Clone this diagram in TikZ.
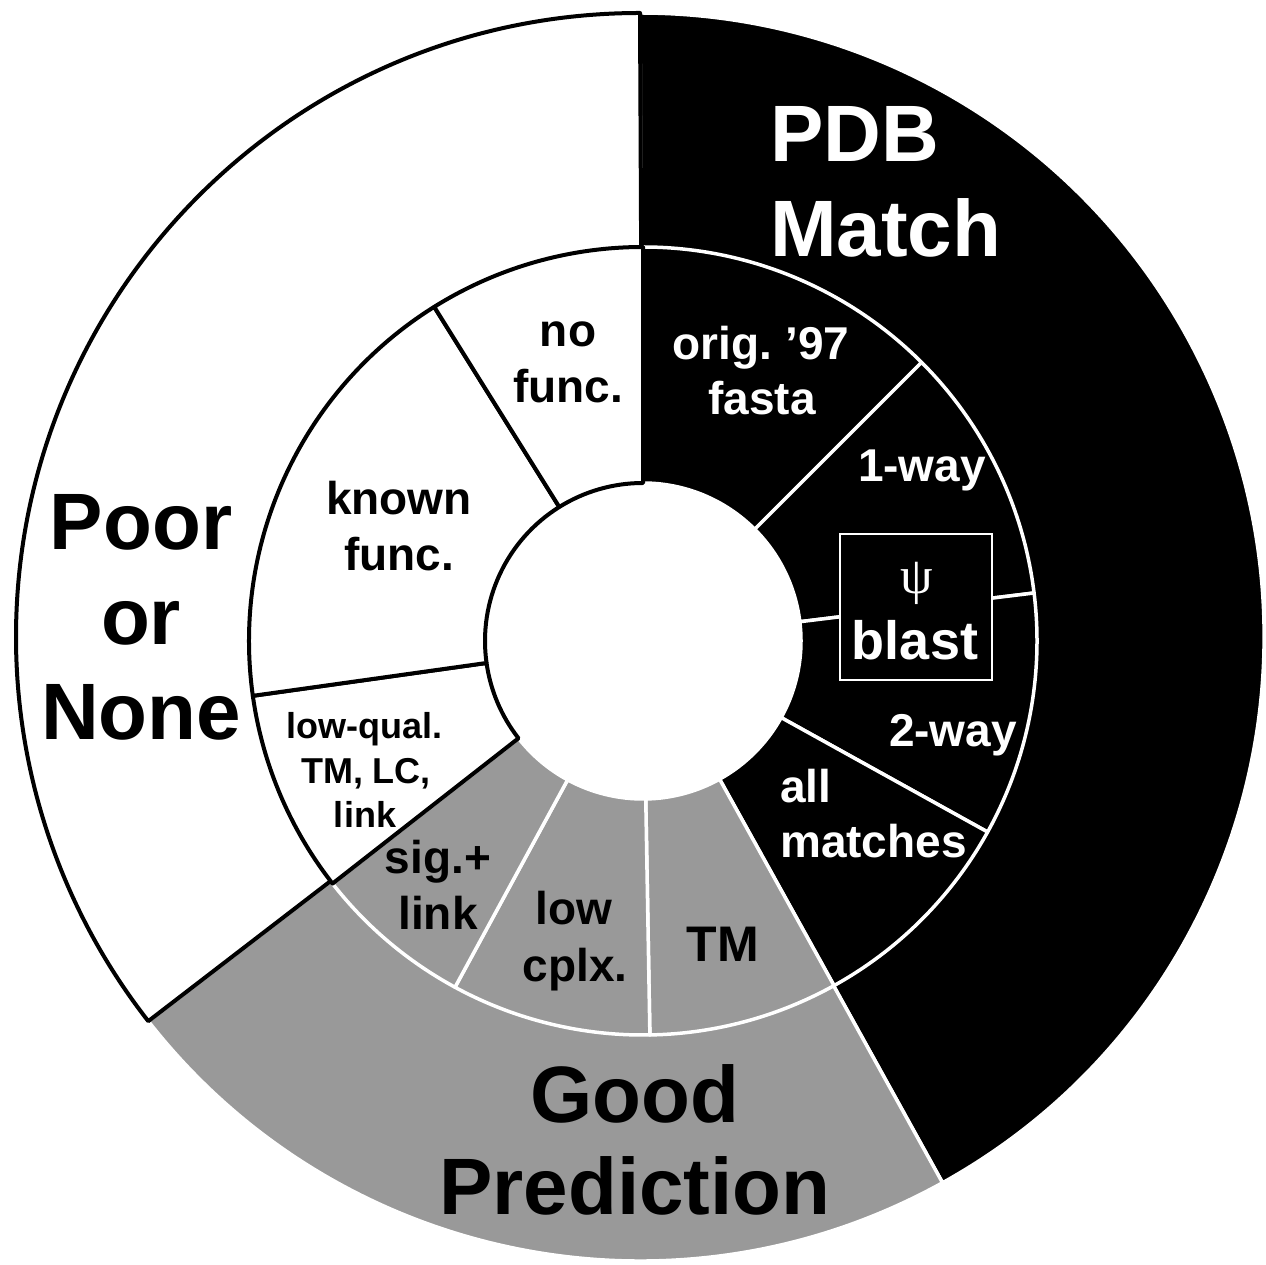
\documentclass[tikz,border=0pt]{standalone}
\usepackage{fontspec}
\setmainfont{Liberation Sans}
\newfontfamily\psifont{Liberation Serif}
\usetikzlibrary{calc}
\definecolor{midgray}{HTML}{999999}
\frenchspacing
\newcommand\outerpie[3]{\path[#1] (Ci) -- ([shift={(Co)}]#2:624) arc[start angle=#2, end angle=#3, radius=624] -- cycle;}
\newcommand\ringwedge[3]{\path[#1] ([shift={(Ci)}]#2:394) arc[start angle=#2, end angle=#3, radius=394] -- ([shift={(Ci)}]#3:158) arc[start angle=#3, end angle=#2, radius=158] -- cycle;}
\begin{document}
\begin{tikzpicture}[x=1pt,y=1pt,
  bigl/.style={font=\fontsize{80}{92}\selectfont\bfseries, inner sep=0pt, anchor=base},
  medl/.style={font=\fontsize{46}{52}\selectfont\bfseries, inner sep=0pt, anchor=base},
  smll/.style={font=\fontsize{36}{44}\selectfont\bfseries, inner sep=0pt, anchor=base},
  wedgeW/.style={fill=white, draw=black, line width=4pt, line join=round},
  wedgeK/.style={fill=black, draw=white, line width=3.5pt, line join=round},
  wedgeG/.style={fill=midgray, draw=white, line width=3.5pt, line join=round},
  onblack/.style={text=white},
]
\useasboundingbox (0,0) rectangle (1266,1264);
\coordinate (Co) at (640,627);
\coordinate (Ci) at (643,623);
% outer ring
\outerpie{wedgeK}{299}{450}
\outerpie{wedgeG}{218}{299}
\outerpie{wedgeW}{90}{218}
% hub
\fill[white] (Ci) circle[radius=158];
% inner ring
\ringwedge{wedgeK}{45}{90}
\ringwedge{wedgeK}{7}{45}
\ringwedge{wedgeK}{331}{367}
\ringwedge{wedgeK}{299}{331}
\ringwedge{wedgeG}{271}{299}
\ringwedge{wedgeG}{241.5}{271}
\ringwedge{wedgeG}{218}{241.5}
\ringwedge{wedgeW}{188}{218}
\ringwedge{wedgeW}{122}{188}
\ringwedge{wedgeW}{90}{122}
% outer labels
\node[bigl, onblack, anchor=base west] (pdb1) at (770,1102) {PDB};
\node[bigl, onblack, anchor=base west] (pdb2) at (770,1007) {Match};
\node[bigl] (poor1) at (141,714) {Poor};
\node[bigl] (poor2) at (141,619) {or};
\node[bigl] (poor3) at (141,524) {None};
\node[bigl] (good1) at (635,142) {Good};
\node[bigl] (good2) at (635,50) {Prediction};
% inner labels
\node[medl, onblack] (fa1) at (761,904) {orig. ’97};
\node[medl, onblack] (fa2) at (762,849) {fasta};
\node[medl] (nf1) at (568,917) {no};
\node[medl] (nf2) at (568,861) {func.};
\node[medl] (kf1) at (399,749) {known};
\node[medl] (kf2) at (399,693) {func.};
\node[smll] (lq1) at (364,525) {low-qual.};
\node[smll] (lq2) at (366,480) {TM, LC,};
\node[smll] (lq3) at (365,436) {link};
\node[medl] (sl1) at (438,390) {sig.+};
\node[medl] (sl2) at (438,334) {link};
\node[medl] (lc1) at (574,339) {low};
\node[medl] (lc2) at (575,282) {cplx.};
\node[medl, font=\fontsize{50}{56}\selectfont\bfseries] (tm) at (723,302) {TM};
\node[medl, onblack, anchor=base west] (am1) at (780,461) {all};
\node[medl, onblack, anchor=base west] (am2) at (780,406) {matches};
\node[medl, onblack] (tw) at (953,517) {2-way};
\node[medl, onblack] (ow) at (922,782) {1-way};
% blast box
\node[draw=white, line width=1.5pt, fill=black, minimum width=152pt, minimum height=146pt, inner sep=0pt] (box) at (916,657) {};
\node[inner sep=0pt, text=white, font=\fontsize{52}{56}\selectfont\psifont] (psi) at (917,681) {ψ};
\node[inner sep=0pt, text=white, anchor=base, font=\fontsize{54}{60}\selectfont\bfseries] (blast) at (915,604) {blast};
\end{tikzpicture}
\end{document}
